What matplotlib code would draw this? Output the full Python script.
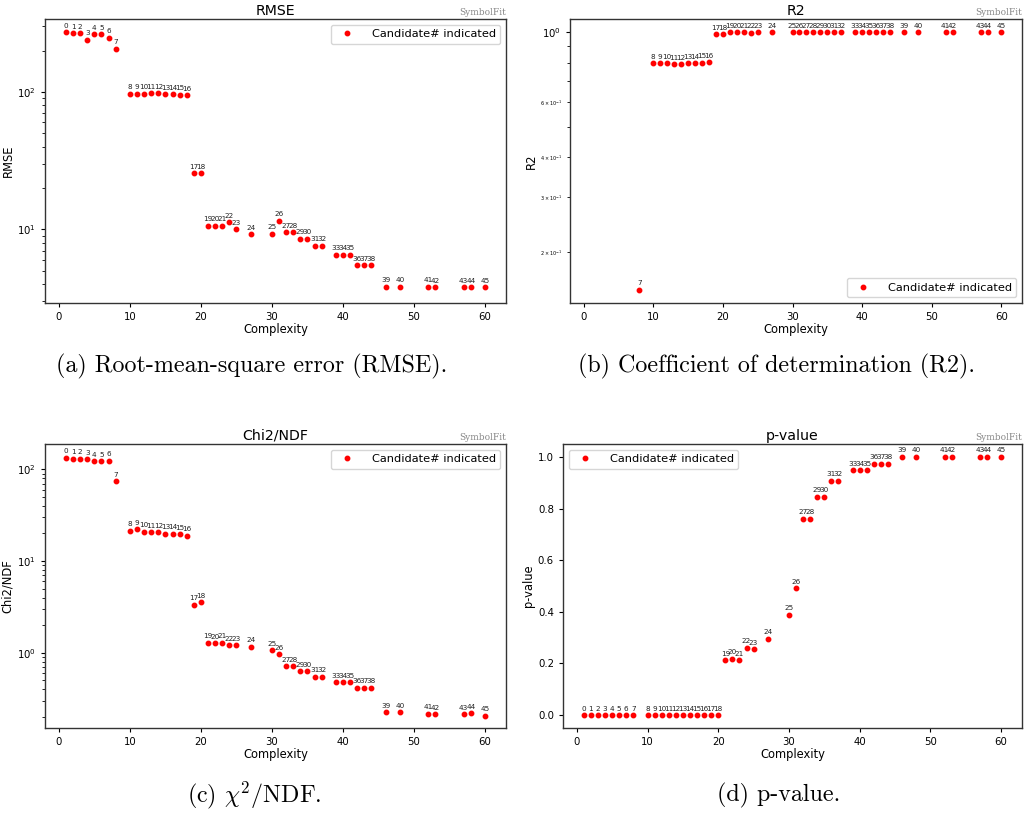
import numpy as np
import matplotlib
matplotlib.use('Agg')
import matplotlib.pyplot as plt

plt.rcParams['mathtext.fontset'] = 'dejavusans'

# complexity of each candidate (candidate index = position in list)
complexity = [1, 2, 3, 4, 5, 6, 7, 8, 10, 11, 12, 13, 14, 15, 16, 17, 18, 19, 20,
              21, 22, 23, 24, 25, 27, 30, 31, 32, 33, 34, 35, 36, 37, 39, 40, 41,
              42, 43, 44, 46, 48, 52, 53, 57, 58, 60]

rmse = [273, 267, 267, 240, 263, 263, 248, 207, 97.3, 97.3, 97.0, 98.3, 98.3,
        96.7, 96.7, 95.6, 95.0, 25.6, 25.6, 10.6, 10.6, 10.6, 11.3, 10.0, 9.2,
        9.3, 11.6, 9.5, 9.5, 8.55, 8.55, 7.57, 7.57, 6.55, 6.55, 6.55, 5.47,
        5.47, 5.47, 3.81, 3.81, 3.82, 3.80, 3.80, 3.80, 3.80]

# candidates 0-6 have negative R2 and drop off the log axis
r2 = [-0.9, -0.8, -0.8, -0.5, -0.7, -0.7, -0.6, 0.152, 0.795, 0.795, 0.795,
      0.791, 0.791, 0.797, 0.797, 0.800, 0.803, 0.985, 0.985, 0.997, 0.997,
      0.997, 0.996, 0.997, 0.998, 0.998, 0.997, 0.998, 0.998, 0.998, 0.998,
      0.998, 0.998, 0.999, 0.999, 0.999, 0.999, 0.999, 0.999, 0.999, 0.999,
      0.999, 0.999, 0.999, 0.999, 0.999]

chi2_ndf = [134, 130.6, 130.6, 128.5, 123, 122, 124, 74, 21.4, 22.2, 20.9, 20.6,
            20.6, 19.9, 19.9, 19.5, 18.9, 3.34, 3.57, 1.28, 1.27, 1.28, 1.20,
            1.21, 1.16, 1.06, 0.967, 0.716, 0.716, 0.627, 0.627, 0.547, 0.547,
            0.475, 0.475, 0.475, 0.416, 0.416, 0.416, 0.224, 0.224, 0.216, 0.213,
            0.213, 0.218, 0.206]

p_value = [0.0] * 19 + [0.212, 0.219, 0.212, 0.260, 0.255, 0.295, 0.389, 0.491,
                        0.761, 0.761, 0.846, 0.846, 0.908, 0.908, 0.948, 0.948,
                        0.948, 0.973, 0.973, 0.973, 1.0, 1.0, 1.0, 1.0, 1.0, 1.0,
                        1.0]

captions = ['(a) Root-mean-square error (RMSE).',
            '(b) Coefficient of determination (R2).',
            r'(c) $\chi^2$/NDF.',
            '(d) p-value.']

W, H = 1024, 813
fig = plt.figure(figsize=(W / 100, H / 100), dpi=100)


def px_axes(x0, x1, y0, y1):
    return fig.add_axes([x0 / W, 1 - y1 / H, (x1 - x0) / W, (y1 - y0) / H])


def panel(ax, y, title, ylabel, logy=True, loc='upper right', ylim=None):
    x = np.array(complexity)
    y = np.array(y, dtype=float)
    if logy:
        ax.set_yscale('log')
    ax.plot(x, y, 'o', color='red', ms=3.2, ls='none', label='Candidate# indicated')
    for i, (xi, yi) in enumerate(zip(x, y)):
        if logy and yi <= 0:
            continue
        ax.annotate(str(i), (xi, yi), textcoords='offset points', xytext=(0, 2.5),
                    ha='center', va='bottom', fontsize=5.2, color='#222222')
    ax.set_title(title, fontsize=10.2, pad=2)
    ax.set_title('SymbolFit', loc='right', fontsize=6.5, color='#888888',
                 family='DejaVu Serif', pad=3)
    ax.set_xlabel('Complexity', fontsize=8.3, labelpad=1)
    ax.set_ylabel(ylabel, fontsize=8.3, labelpad=2)
    ax.tick_params(labelsize=7.3, length=3)
    ax.tick_params(which='minor', labelsize=3.5, length=2)
    ax.set_xticks([0, 10, 20, 30, 40, 50, 60])
    ax.set_xlim(-1.95, 62.95)
    if ylim is not None:
        ax.set_ylim(*ylim)
    for s in ax.spines.values():
        s.set_color('#333333')
        s.set_linewidth(1.0)
    ax.legend(loc=loc, fontsize=8.2, handletextpad=1.2, borderpad=0.4,
              framealpha=0.8)


ax_a = px_axes(45, 506, 19, 303)
panel(ax_a, rmse, 'RMSE', 'RMSE', ylim=(2.91, 340))

ax_b = px_axes(570, 1022, 19, 303)
panel(ax_b, r2, 'R2', 'R2', loc='lower right', ylim=(0.138, 1.10))

ax_c = px_axes(45, 506, 444, 728)
panel(ax_c, chi2_ndf, 'Chi2/NDF', 'Chi2/NDF', ylim=(0.151, 189))

ax_d = px_axes(563, 1022, 444, 728)
panel(ax_d, p_value, 'p-value', 'p-value', logy=False, loc='upper left')

cap_pos = [(252, 366), (776, 366), (254, 795), (779, 795)]
for (cx, cy), txt in zip(cap_pos, captions):
    fig.text(cx / W, 1 - cy / H, txt, ha='center', va='center', fontsize=17.3,
             family='cmr10', math_fontfamily='cm')

fig.savefig('out.png', dpi=100)
